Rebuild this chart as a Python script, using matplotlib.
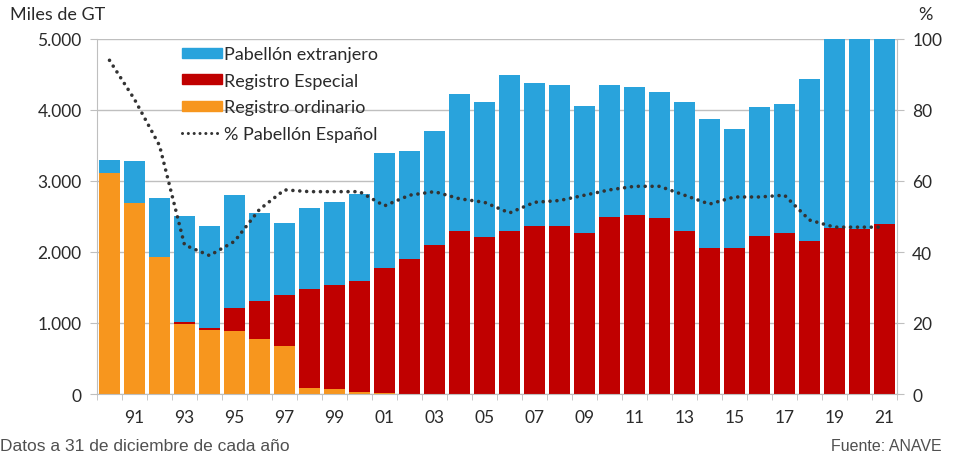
import numpy as np
import matplotlib
matplotlib.use("Agg")
import matplotlib.pyplot as plt
from matplotlib.patches import Patch
from matplotlib.lines import Line2D
from matplotlib.ticker import FuncFormatter, FixedLocator

# Miles de GT por año (31 de diciembre)
years = list(range(1990, 2022))
ordinario = [3110, 2690, 1930, 990, 900, 890, 770, 680, 90, 70, 30, 10, 5, 0, 0, 0,
             0, 0, 0, 0, 0, 0, 0, 0, 0, 0, 0, 0, 0, 0, 0, 0]
especial = [0, 0, 0, 30, 30, 320, 540, 710, 1390, 1470, 1560, 1770, 1895, 2100, 2300, 2210,
            2300, 2360, 2360, 2270, 2490, 2520, 2480, 2290, 2060, 2050, 2230, 2270, 2150, 2340, 2330, 2400]
extranjero = [190, 590, 830, 1490, 1440, 1590, 1240, 1020, 1140, 1160, 1230, 1620, 1520, 1600, 1920, 1900,
              2200, 2020, 1990, 1790, 1860, 1800, 1770, 1820, 1810, 1680, 1810, 1810, 2290, 2700, 2700, 2650]
pct_espanol = [94, 83, 70, 42, 39, 43, 52, 57.5, 57, 57, 57, 53, 56, 57, 55, 54,
               51, 54, 54.5, 56, 57.5, 58.5, 58.5, 56, 53.5, 55.5, 55.5, 56, 49, 47, 47, 47]
tick_years = [1991, 1993, 1995, 1997, 1999, 2001, 2003, 2005, 2007, 2009,
              2011, 2013, 2015, 2017, 2019, 2021]

c_ext = "#29a3dc"
c_esp = "#c00000"
c_ord = "#f7961e"
c_line = "#333333"
c_grid = "#bfbfbf"
c_text = "#2a2a2a"
num_font = "Lato"
dots = (0, (0.01, 1.9))

fig = plt.figure(figsize=(9.6, 4.6), dpi=100)
ax = fig.add_axes([97 / 960, 1 - 395 / 460, 800 / 960, 355 / 460])

x = np.array(years)
ordn = np.array(ordinario)
esp = np.array(especial)
ext = np.array(extranjero)
w = 0.86
ax.bar(x, ordn, width=w, color=c_ord, zorder=2)
ax.bar(x, esp, width=w, bottom=ordn, color=c_esp, zorder=2)
ax.bar(x, ext, width=w, bottom=ordn + esp, color=c_ext, zorder=2)

ax.set_xlim(1989.5, 2021.5)
ax.set_ylim(0, 5000)
ax.set_yticks(range(0, 5001, 1000))
ax.yaxis.set_major_formatter(FuncFormatter(lambda v, p: f"{v:,.0f}".replace(",", ".")))
ax.grid(axis="y", color=c_grid, lw=1, zorder=0)
ax.set_axisbelow(True)

ax.set_xticks(tick_years)
ax.set_xticklabels([f"{y % 100:02d}" for y in tick_years])
ax.xaxis.set_minor_locator(FixedLocator(np.arange(1989.5, 2022, 1)))
ax.tick_params(axis="x", which="major", length=0, pad=11, labelsize=12.5, labelcolor=c_text)
ax.tick_params(axis="x", which="minor", length=4, color=c_grid, direction="out")
ax.tick_params(axis="y", length=5, color=c_grid, labelsize=12.5, labelcolor=c_text, pad=6)
for lab in ax.get_xticklabels() + ax.get_yticklabels():
    lab.set_fontfamily(num_font)

for s in ["top", "right"]:
    ax.spines[s].set_visible(False)
for s in ["left", "bottom"]:
    ax.spines[s].set_color(c_grid)

ax2 = ax.twinx()
ax2.plot(x, pct_espanol, color=c_line, lw=2.6, linestyle=dots,
         dash_capstyle="round", zorder=3)
ax2.set_ylim(0, 100)
ax2.set_yticks(range(0, 101, 20))
ax2.tick_params(axis="y", length=5, color=c_grid, labelsize=12.5, labelcolor=c_text, pad=6)
for lab in ax2.get_yticklabels():
    lab.set_fontfamily(num_font)
for s in ["top", "left", "bottom"]:
    ax2.spines[s].set_visible(False)
ax2.spines["right"].set_color(c_grid)

handles = [Patch(color=c_ext), Patch(color=c_esp), Patch(color=c_ord),
           Line2D([], [], color=c_line, lw=2.2, linestyle=dots, dash_capstyle="round")]
labels = ["Pabellón extranjero", "Registro Especial", "Registro ordinario", "% Pabellón Español"]
leg = ax2.legend(handles, labels, loc="upper left", bbox_to_anchor=(0.095, 1.005),
                 frameon=False, borderpad=0, handlelength=2.2, handleheight=0.5,
                 handletextpad=0.15, labelspacing=0.58,
                 prop={"family": num_font, "size": 13})
for t in leg.get_texts():
    t.set_color(c_text)

fig.text(10 / 960, 1 - 15 / 460, "Miles de GT", fontsize=13, family=num_font,
         color=c_text, va="center", ha="left")
fig.text(925 / 960, 1 - 15 / 460, "%", fontsize=13, family=num_font,
         color=c_text, va="center", ha="center")
fig.text(0.0, 1 - 447 / 460, "Datos a 31 de diciembre de cada año", fontsize=12.5,
         family="Liberation Sans", color="#505050", va="center", ha="left")
fig.text(942 / 960, 1 - 447 / 460, "Fuente: ANAVE", fontsize=11.5,
         family="Liberation Sans", color="#505050", va="center", ha="right")

fig.savefig("out.png", dpi=100)
